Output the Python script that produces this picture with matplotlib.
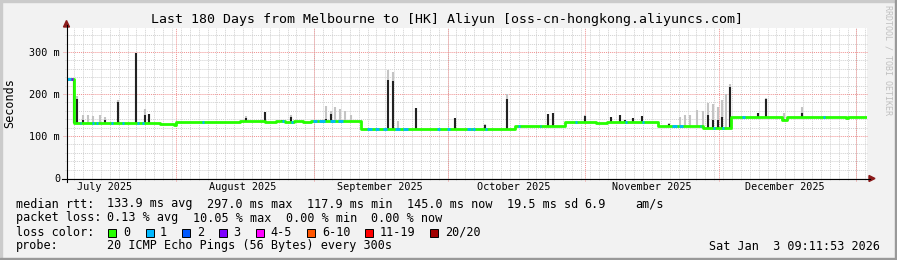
import numpy as np
import matplotlib.pyplot as plt
from matplotlib.lines import Line2D
from matplotlib.patches import Rectangle, Polygon
from matplotlib.transforms import Affine2D
from datetime import datetime, timedelta

W, H = 897, 260
end = datetime(2026, 1, 3, 9, 11, 53)
start = end - timedelta(days=180)

# median rtt (step levels), day offset from start -> ms
med_day = [0, 1.6, 20.9, 24.0, 24.5, 38.9, 44.6, 47.0, 49.0, 51.0, 53.0, 55.0, 58.5,
           66.2, 100.8, 112.1, 119.0, 121.5, 126.0, 128.0, 133.0, 143.1, 149.4,
           160.9, 162.0, 175.3, 175.8, 179.8]
med_ms = [235, 132, 129, 126, 134, 136, 134, 136, 134, 136, 134, 135, 136,
          117.5, 124.5, 134, 132, 134, 132.5, 134, 124.5, 120, 146,
          139, 146, 143, 146, 146]

# loss periods (start day, end day, lost pings)
loss_start = [0.0, 0.9, 2.9, 5.6, 6.5, 9.9, 12.4, 15.8, 16.9, 30.4, 48.4, 50.4, 55.4,
              56.8, 59.2, 61.0, 67.5, 69.2, 71.0, 73.8, 75.6, 83.3, 85.5, 90.0, 91.2,
              94.1, 101.5, 106.4, 114.3, 125.6, 129.4, 136.2, 137.8, 142.4, 145.4,
              147.4, 151.9, 170.1]
loss_end = [0.8, 1.3, 3.2, 6.1, 7.0, 10.4, 12.7, 16.1, 17.2, 30.7, 48.7, 50.7, 56.2,
            58.1, 60.3, 62.1, 68.6, 70.2, 72.0, 75.0, 76.7, 83.9, 86.2, 90.8, 91.8,
            94.4, 101.9, 106.7, 114.6, 125.9, 129.7, 137.2, 138.6, 142.7, 145.8,
            147.7, 152.6, 170.4]
loss_n = [1, 3, 1, 1, 1, 1, 1, 1, 1, 1, 1, 1, 1,
          1, 1, 1, 1, 1, 1, 1, 1, 1, 1, 1, 1,
          1, 1, 1, 1, 1, 1, 1, 1, 1, 1,
          1, 1, 1]

# spikes: day, dense smoke top (ms), faint smoke top (ms)
spike_day = [1.6, 2.25, 3.6, 4.7, 5.85, 7.4, 8.55, 11.5, 15.5, 17.55, 18.45,
             40.3, 44.55, 48.4, 50.4, 58.3, 59.4, 60.3, 61.4, 62.6, 63.9,
             72.2, 73.35, 74.5, 78.5, 87.3, 94.05, 99.0, 108.2, 109.4, 116.6,
             122.4, 124.4, 125.6, 127.4, 129.4, 135.5, 137.9, 139.0, 140.2, 141.8,
             143.1, 144.2, 145.4, 146.5, 147.4, 148.3, 149.2, 155.5, 157.3,
             161.3, 165.4, 175.5]
spike_top = [235, 187, 138, 132, 132, 132, 138, 182, 297, 150, 152,
             144, 158, 139, 146, 140, 152, 136, 136, 136, 136,
             233, 232, 120, 166, 144, 126, 187, 152, 154, 148,
             146, 150, 138, 142, 148, 128, 124.5, 124.5, 124.5, 125,
             120, 150, 138, 138, 146, 120, 217, 155, 187,
             140, 155, 144]
smoke_top = [235, 195, 150, 150, 148, 150, 145, 185, 297, 165, 152,
             148, 158, 139, 150, 171, 160, 168, 165, 160, 150,
             257, 252, 136, 166, 144, 128, 201, 152, 154, 150,
             146, 150, 138, 142, 148, 132, 145, 150, 150, 162,
             160, 178, 176, 170, 186, 200, 225, 155, 190,
             155, 170, 144]

loss_colors = {0: '#26ff00', 1: '#00b8ff', 2: '#0059ff', 3: '#7e00ff', 5: '#ff00ff',
               10: '#ff5500', 19: '#ff0000', 20: '#a10000'}
legend_labels = ['0', '1', '2', '3', '4-5', '6-10', '11-19', '20/20']

fig = plt.figure(figsize=(W / 100, H / 100), dpi=100, facecolor='#f2f2f2')
pix = Affine2D().scale(1 / W, -1 / H).translate(0, 1) + fig.transFigure
ax = fig.add_axes([67 / W, (H - 178) / H, 800 / W, 150 / H])
ax.set_facecolor('white')
ax.set_xlim(0, 180)
ax.set_ylim(0, 150 / 0.42)
for s in ax.spines.values():
    s.set_visible(False)

mono = 'DejaVu Sans Mono'
dpd = 800 / 180.0   # px per day
mpp = 1 / 0.42      # ms per px

# grid
def off(d):
    return (d - start).total_seconds() / 86400.0

day = datetime(start.year, start.month, start.day) + timedelta(days=1)
while day < end:
    if (day - datetime(1970, 1, 1)).days % 2 == 0:
        ax.plot([off(day)] * 2, [-2 * mpp, 357], color='#d0d0d0', lw=0.7,
                ls=(0, (1, 1)), clip_on=False, zorder=0)
    day += timedelta(days=1)
for v in range(20, 360, 20):
    if v % 100:
        ax.plot([-2.5 / dpd, 180], [v, v], color='#d0d0d0', lw=0.7,
                ls=(0, (1, 1)), clip_on=False, zorder=0)
months = [datetime(2025, m, 1) for m in range(8, 13)] + [datetime(2026, 1, 1)]
for m in months:
    ax.plot([off(m)] * 2, [-3 * mpp, 357], color='#f09090', lw=0.7,
            ls=(0, (1, 1)), clip_on=False, zorder=1)
for v in [100, 200, 300]:
    ax.plot([-4.5 / dpd, 180], [v, v], color='#f09090', lw=0.7,
            ls=(0, (1, 1)), clip_on=False, zorder=1)

# data
med_day_a = np.array(med_day)
med_ms_a = np.array(med_ms)

def med_at(d):
    return med_ms_a[np.searchsorted(med_day_a, d, side='right') - 1]

sd = np.array(spike_day)
base = np.array([med_at(d) for d in sd])
ax.vlines(sd, base, smoke_top, color='#c4c4c4', lw=1.5, zorder=2)
ax.vlines(sd, base, spike_top, color='#222222', lw=1.5, zorder=3)
ax.step(med_day, med_ms, where='post', color=loss_colors[0], lw=2.0, zorder=4)
for a, b, n in zip(loss_start, loss_end, loss_n):
    ax.hlines(med_at(a), a, max(b, a + 0.35), color=loss_colors[n], lw=2.0, zorder=5)

# ticks
ax.set_yticks([0, 100, 200, 300], ['0', '100 m', '200 m', '300 m'])
lab_pos = [off(datetime(2025, m, 1) + timedelta(days=14, hours=21)) for m in range(7, 13)]
ax.set_xticks(lab_pos, ['July 2025', 'August 2025', 'September 2025', 'October 2025',
                        'November 2025', 'December 2025'])
ax.tick_params(length=0, labelsize=7.3, colors='black')
ax.tick_params(axis='y', pad=5)
ax.tick_params(axis='x', pad=3)
for t in ax.get_xticklabels() + ax.get_yticklabels():
    t.set_fontfamily(mono)

# axes lines and arrows
fig.add_artist(Line2D([62, 870], [178.5, 178.5], color='black', lw=0.8, transform=pix))
fig.add_artist(Line2D([66.5, 66.5], [182, 25], color='black', lw=0.8, transform=pix))
fig.add_artist(Polygon([[66.5, 20.5], [63.5, 27], [69.5, 27]], closed=True,
                       color='#8b1a1a', transform=pix))
fig.add_artist(Polygon([[875, 178.5], [869, 175.5], [869, 181.5]], closed=True,
                       color='#8b1a1a', transform=pix))

# frame
fig.add_artist(Rectangle((0, 0), W, 2, color='#cbcbcb', transform=pix))
fig.add_artist(Rectangle((0, 0), 2, H, color='#cbcbcb', transform=pix))
fig.add_artist(Rectangle((0, H - 2), W, 2, color='#999999', transform=pix))
fig.add_artist(Rectangle((W - 2, 0), 2, H, color='#999999', transform=pix))

def txt(x, y, s, **kw):
    kw.setdefault('fontsize', 8.5)
    kw.setdefault('family', mono)
    kw.setdefault('va', 'center')
    fig.text(x / W, 1 - y / H, s, **kw)

txt(447, 19, 'Last 180 Days from Melbourne to [HK] Aliyun [oss-cn-hongkong.aliyuncs.com]',
    fontsize=9.55, ha='center')
txt(10, 103, 'Seconds', rotation=90, ha='center')
txt(888, 5, 'RRDTOOL / TOBI OETIKER', rotation=270, ha='center', va='top',
    fontsize=6.0, color='#c0c0c0')

txt(16, 204, 'median rtt:')
for x, s in zip([107, 207, 307, 407, 507, 584, 635],
                ['133.9 ms avg', '297.0 ms max', '117.9 ms min', '145.0 ms now',
                 '19.5 ms sd', '6.9', 'am/s']):
    txt(x, 204, s)
txt(16, 218, 'packet loss:')
for x, s in zip([107, 193, 286, 371],
                ['0.13 % avg', '10.05 % max', '0.00 % min', '0.00 % now']):
    txt(x, 218, s)
txt(16, 232, 'loss color:')
for bx, tx, key, lab in zip([108, 146, 182, 219, 256, 307, 365, 430],
                            [123, 160, 197, 233, 270, 322, 380, 445],
                            list(loss_colors.keys()), legend_labels):
    fig.add_artist(Rectangle((bx, 228.5), 8, 8, facecolor=loss_colors[key],
                             edgecolor='black', lw=0.7, transform=pix))
    txt(tx, 232, lab)
txt(16, 246, 'probe:')
txt(107, 246, '20 ICMP Echo Pings (56 Bytes) every 300s')
txt(880, 246, 'Sat Jan  3 09:11:53 2026', ha='right')

fig.savefig('out.png', dpi=100, facecolor=fig.get_facecolor())
